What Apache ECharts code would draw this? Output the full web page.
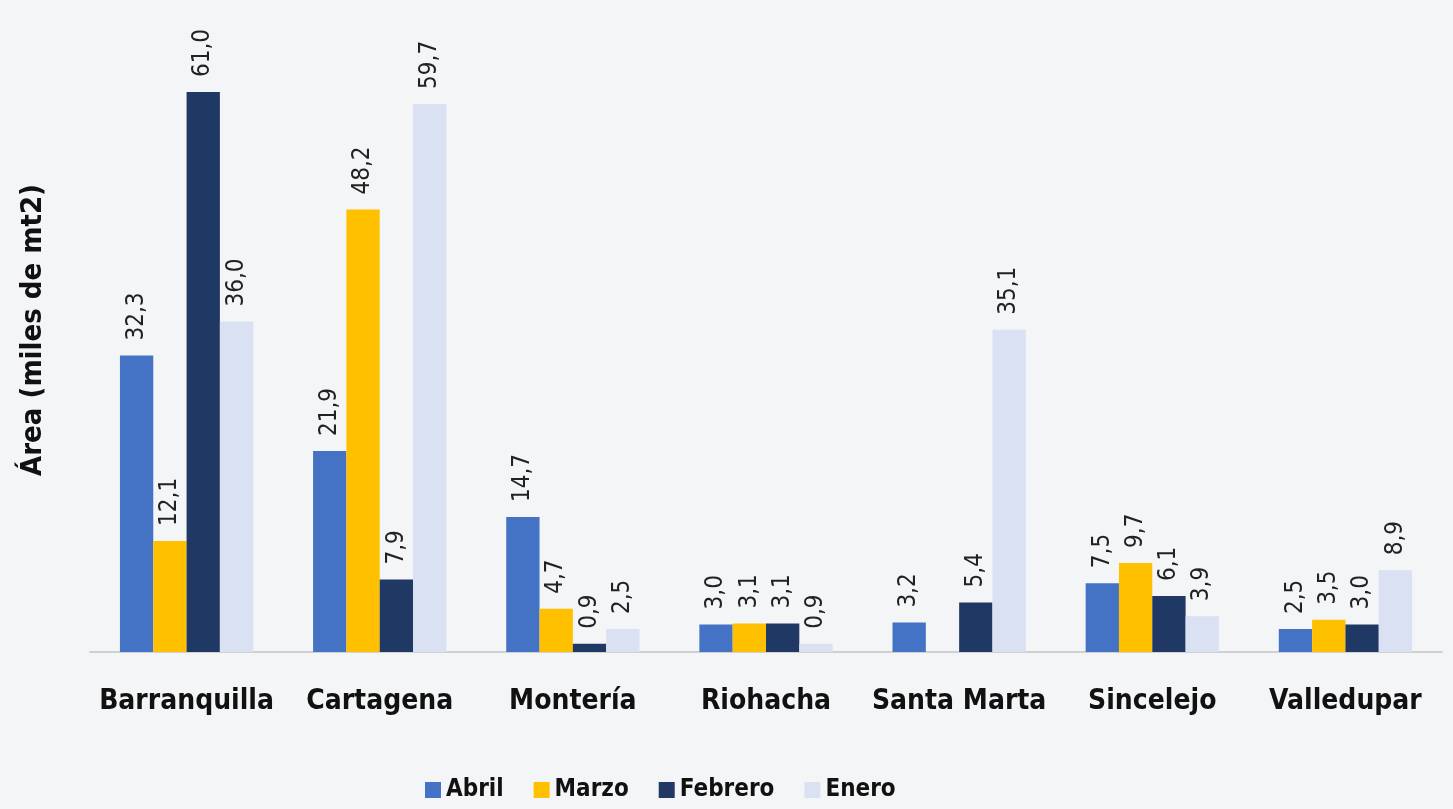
<!DOCTYPE html>
<html lang="es">
<head>
<meta charset="UTF-8">
<script src="https://cdn.jsdelivr.net/npm/echarts@6/dist/echarts.min.js"></script>
<title>Área por ciudad</title>
<style>
  html, body { margin: 0; padding: 0; background: #f4f5f7; }
  #chart { width: 1453px; height: 809px; }
</style>
</head>
<body>
<div id="chart"></div>
<script>
// categorias y valores (miles de mt2)
var ciudades = ['Barranquilla', 'Cartagena', 'Montería', 'Riohacha', 'Santa Marta', 'Sincelejo', 'Valledupar'];
var abril   = [32.3, 21.9, 14.7, 3.0, 3.2, 7.5, 2.5];
var marzo   = [12.1, 48.2, 4.7, 3.1, null, 9.7, 3.5];
var febrero = [61.0, 7.9, 0.9, 3.1, 5.4, 6.1, 3.0];
var enero   = [36.0, 59.7, 2.5, 0.9, 35.1, 3.9, 8.9];

var nombres = ['Abril', 'Marzo', 'Febrero', 'Enero'];
var colores = ['#4472c4', '#ffc000', '#203864', '#d9e1f2'];
var datos = [abril, marzo, febrero, enero];

var fuente = '"DejaVu Sans Condensed", "DejaVu Sans", sans-serif';

var series = datos.map(function (d, i) {
    return {
        name: nombres[i],
        type: 'bar',
        data: d,
        barGap: '0%',
        barCategoryGap: '31%',
        itemStyle: { color: colores[i] },
        label: {
            show: true,
            position: 'top',
            rotate: 90,
            align: 'left',
            verticalAlign: 'middle',
            distance: 15,
            fontFamily: fuente,
            fontSize: 24,
            color: '#222',
            formatter: function (p) {
                return p.value == null ? '' : p.value.toFixed(1).replace('.', ',');
            }
        }
    };
});

var chart = echarts.init(document.getElementById('chart'));
chart.setOption({
    backgroundColor: '#f4f5f7',
    animation: false,
    grid: { left: 90, right: 11, top: 92, bottom: 157 },
    legend: {
        data: nombres,
        left: 420,
        bottom: 2,
        itemWidth: 16,
        itemHeight: 16,
        itemGap: 30,
        icon: 'rect',
        textStyle: { fontFamily: fuente, fontSize: 24, color: '#111', fontWeight: 'bold' }
    },
    xAxis: {
        type: 'category',
        data: ciudades,
        axisLine: { lineStyle: { color: '#d0d0d0', width: 2 } },
        axisTick: { show: false },
        axisLabel: {
            interval: 0,
            margin: 36,
            fontFamily: fuente,
            fontSize: 28,
            fontWeight: 'bold',
            color: '#111'
        }
    },
    yAxis: {
        type: 'value',
        min: 0,
        max: 61,
        show: false
    },
    graphic: [{
        type: 'text',
        x: 33,
        y: 330,
        rotation: Math.PI / 2,
        style: {
            text: 'Área (miles de mt2)',
            fontFamily: fuente,
            fontSize: 29,
            fontWeight: 'bold',
            fill: '#111',
            align: 'center',
            verticalAlign: 'middle'
        }
    }],
    series: series
});
</script>
</body>
</html>
